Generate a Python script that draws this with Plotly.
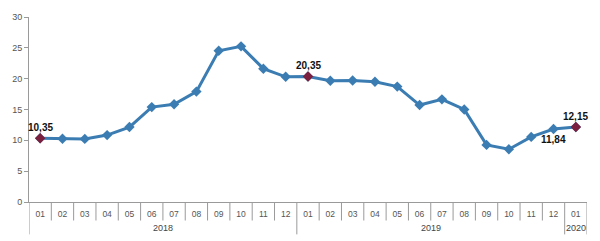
import plotly.graph_objects as go

months = ["01","02","03","04","05","06","07","08","09","10","11","12",
          "01","02","03","04","05","06","07","08","09","10","11","12","01"]
years = ["2018", "2019", "2020"]
year_spans = [(0, 11), (12, 23), (24, 24)]
values = [10.35, 10.26, 10.23, 10.85, 12.15, 15.39, 15.85, 17.90, 24.52, 25.24, 21.62, 20.30,
          20.35, 19.67, 19.71, 19.50, 18.71, 15.72, 16.65, 15.01, 9.26, 8.55, 10.56, 11.84, 12.15]
highlight_idx = [0, 12, 24]
label_idx = [0, 12, 23, 24]
label_text = ["10,35", "20,35", "11,84", "12,15"]

x = list(range(len(values)))
line_color = "#3b7db3"
hl_color = "#7a1f3d"

fig = go.Figure()
fig.add_trace(go.Scatter(
    x=x, y=values, mode="lines+markers",
    line=dict(color=line_color, width=3),
    marker=dict(symbol="diamond", size=8, color=line_color),
    hoverinfo="skip", showlegend=False))
fig.add_trace(go.Scatter(
    x=[x[i] for i in highlight_idx], y=[values[i] for i in highlight_idx],
    mode="markers", marker=dict(symbol="diamond", size=8, color=hl_color),
    hoverinfo="skip", showlegend=False))

annotations = []
offsets = {0: (0, 11), 12: (0, 11), 23: (0, -11), 24: (0, 11)}
for i, t in zip(label_idx, label_text):
    dx, dy = offsets[i]
    annotations.append(dict(x=x[i], y=values[i], xref="x", yref="y", text="<b>" + t + "</b>",
                            showarrow=False, xshift=dx, yshift=dy,
                            font=dict(family="Arial, Liberation Sans", size=10, color="#111111")))

shapes = []
for i in range(len(values) + 1):
    b = i - 0.5
    is_year = i in [s for s, e in year_spans] or i == len(values)
    shapes.append(dict(type="line", xref="x", yref="paper", x0=b, x1=b,
                       y0=0, y1=-0.175 if is_year else -0.1,
                       line=dict(color="#9a9a9a", width=1)))
for yr, (s, e) in zip(years, year_spans):
    annotations.append(dict(x=(s + e) / 2, y=-0.14, xref="x", yref="paper",
                            text=yr, showarrow=False, yanchor="middle",
                            font=dict(family="Arial, Liberation Sans", size=9, color="#444444")))

fig.update_layout(
    width=600, height=241, margin=dict(l=25, r=13, t=12, b=39),
    paper_bgcolor="white", plot_bgcolor="white",
    shapes=shapes, annotations=annotations,
    xaxis=dict(range=[-0.5, len(values) - 0.5], tickvals=x, ticktext=months,
               showgrid=False, zeroline=False, showline=True, linecolor="#9a9a9a",
               ticks="", tickfont=dict(family="Arial, Liberation Sans", size=8.5, color="#555555"),
               ticklabelstandoff=4),
    yaxis=dict(range=[0, 30], tickvals=[0, 5, 10, 15, 20, 25, 30], showgrid=False,
               zeroline=False, showline=True, linecolor="#9a9a9a", ticks="outside",
               ticklen=4, tickcolor="#9a9a9a",
               tickfont=dict(family="Arial, Liberation Sans", size=9, color="#555555")),
)
fig.write_html("out.html")
